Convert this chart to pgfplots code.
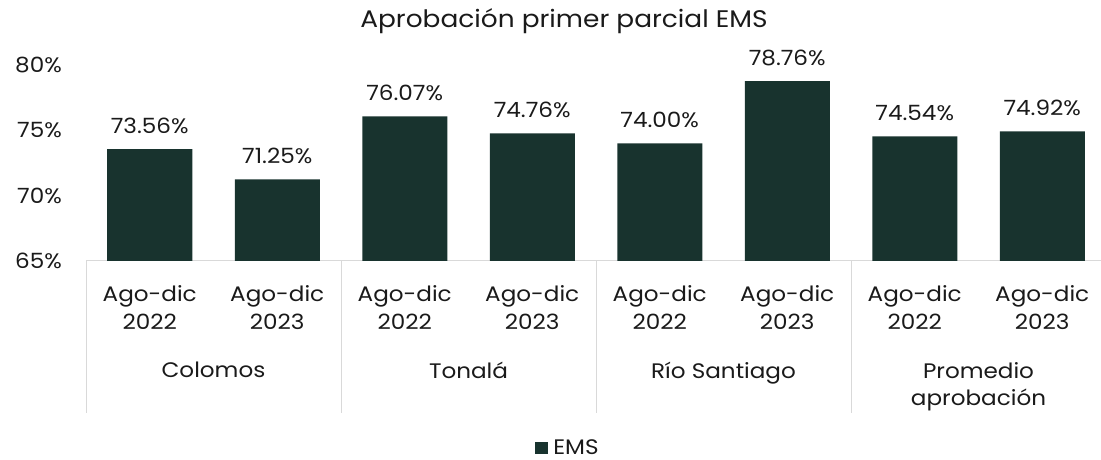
\documentclass[border=0pt]{standalone}
\usepackage{pgfplots}
\pgfplotsset{compat=1.18}
\usepackage{fontspec}
\setmainfont{Poppins}[FakeStretch=1.1]
\definecolor{barc}{HTML}{18332E}
\definecolor{txt}{HTML}{1A1A1A}
\definecolor{axc}{HTML}{D9D9D9}
\begin{document}
\begin{tikzpicture}[x=1bp,y=1bp]
\begin{axis}[
  at={(86bp,199bp)}, anchor=south west,
  scale only axis, width=1020bp, height=196bp,
  xmin=-0.5, xmax=7.5, ymin=65, ymax=80,
  ybar, bar width=85bp,
  clip mode=individual,
  separate axis lines,
  axis x line*=bottom, axis y line*=left,
  x axis line style={axc, line width=1pt, -},
  y axis line style={draw=none},
  ytick={65,70,75,80},
  /pgf/number format/assume math mode=true,
  yticklabel={\pgfmathprintnumber{\tick}\%},
  yticklabel style={anchor=east, inner sep=0pt, xshift=-24bp, text=txt, font=\fontsize{21bp}{24bp}\selectfont},
  xtick={0,...,7},
  xticklabels={{Ago-dic\\2022},{Ago-dic\\2023},{Ago-dic\\2022},{Ago-dic\\2023},{Ago-dic\\2022},{Ago-dic\\2023},{Ago-dic\\2022},{Ago-dic\\2023}},
  xticklabel style={align=center, anchor=north, inner sep=0pt, yshift=-24bp, text=txt, font=\fontsize{21bp}{28bp}\selectfont},
  major tick length=0pt,
  tick style={draw=none},
  nodes near coords={\pgfmathprintnumber[fixed,fixed zerofill,precision=2]{\pgfplotspointmeta}\%},
  every node near coord/.append style={anchor=base, inner sep=0pt, yshift=16bp, text=txt, font=\fontsize{21bp}{24bp}\selectfont},
  legend style={at={(0.4725,-0.954)}, anchor=center, draw=none, fill=none, font=\fontsize{21bp}{24bp}\selectfont, text=txt, column sep=3bp},
  legend image code/.code={\fill[barc] (0bp,-6bp) rectangle (13bp,6bp);},
]
\addplot[fill=barc, draw=none] coordinates {(0,73.56) (1,71.25) (2,76.07) (3,74.76) (4,74.00) (5,78.76) (6,74.54) (7,74.92)};
\addlegendentry{EMS}
\end{axis}
% category separators
\foreach \xx in {86,341,596,851}{\draw[axc, line width=1pt] (\xx,199) -- (\xx,47);}
% group labels
\begin{scope}[every node/.style={align=center, anchor=north, inner sep=0pt, text=txt, font=\fontsize{21bp}{27bp}\selectfont}]
\node at (213.5,98) {Colomos};
\node at (468.5,98) {Tonalá};
\node at (723.5,98) {Río Santiago};
\node at (978.5,98) {Promedio\\aprobación};
\end{scope}
\node[anchor=base, inner sep=0pt, text=txt, font=\fontsize{24bp}{28bp}\selectfont] at (564,432) {Aprobación primer parcial EMS};
\pgfresetboundingbox
\useasboundingbox (0,0) rectangle (1101,460);
\end{tikzpicture}
\end{document}
